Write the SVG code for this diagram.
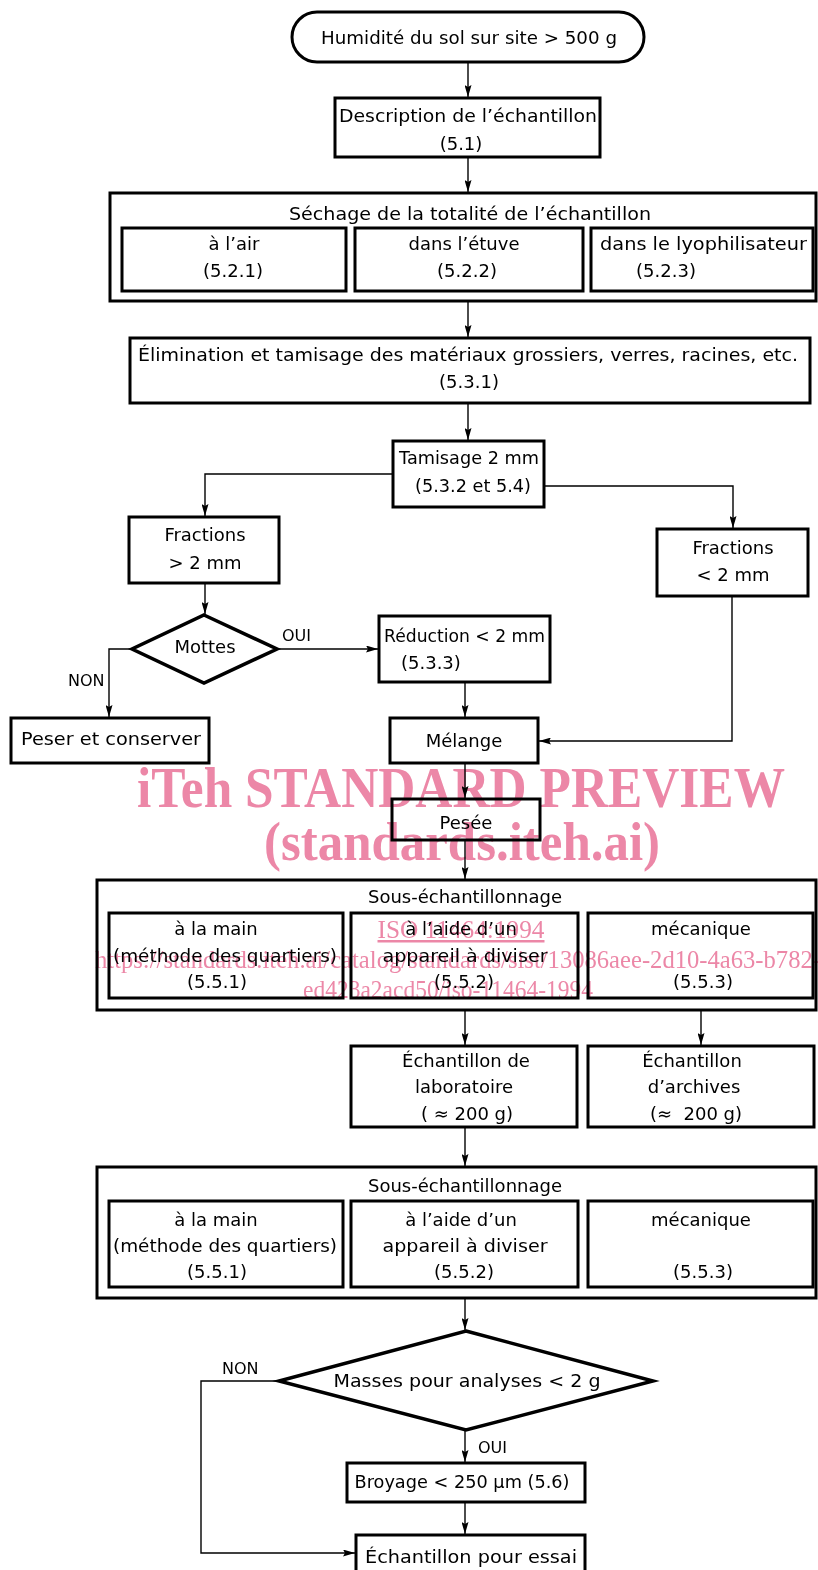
<svg xmlns="http://www.w3.org/2000/svg" width="818" height="1570" viewBox="0 0 818 1570">
<style>
.box{fill:#fff;stroke:#000;stroke-width:3}
.dia{fill:#fff;stroke:#000;stroke-width:3.5;stroke-linejoin:miter}
.con{fill:none;stroke:#000;stroke-width:1.4}
.t{font-family:"DejaVu Sans","Liberation Sans",sans-serif;font-size:18px;fill:#000}
.m{text-anchor:middle}
.s{font-size:16px}
.wm{font-family:"Liberation Serif","Times New Roman",serif;fill:#ec87a7}
.wb{font-weight:bold}
#watermark{mix-blend-mode:multiply}
</style>
<defs>
<marker id="ah" markerWidth="12" markerHeight="7" refX="12" refY="3.5" orient="auto" markerUnits="userSpaceOnUse">
<path d="M0,0 L12,3.5 L0,7 L2,3.5 z" fill="#000"/>
</marker>
</defs>

<g id="connectors">
<path class="con" d="M468,62 V97" marker-end="url(#ah)"/>
<path class="con" d="M468,157 V192" marker-end="url(#ah)"/>
<path class="con" d="M468,301 V337" marker-end="url(#ah)"/>
<path class="con" d="M468,403 V440" marker-end="url(#ah)"/>
<path class="con" d="M393,474 H205 V516" marker-end="url(#ah)"/>
<path class="con" d="M544,486 H733 V528" marker-end="url(#ah)"/>
<path class="con" d="M205,583 V614" marker-end="url(#ah)"/>
<path class="con" d="M277,649 H378" marker-end="url(#ah)"/>
<path class="con" d="M132,649 H109 V717" marker-end="url(#ah)"/>
<path class="con" d="M465,682 V717" marker-end="url(#ah)"/>
<path class="con" d="M732,596 V741 H539" marker-end="url(#ah)"/>
<path class="con" d="M465,763 V798" marker-end="url(#ah)"/>
<path class="con" d="M465,840 V879" marker-end="url(#ah)"/>
<path class="con" d="M465,1010 V1045" marker-end="url(#ah)"/>
<path class="con" d="M701,1010 V1045" marker-end="url(#ah)"/>
<path class="con" d="M465,1127 V1166" marker-end="url(#ah)"/>
<path class="con" d="M465,1298 V1330" marker-end="url(#ah)"/>
<path class="con" d="M465,1430 V1462" marker-end="url(#ah)"/>
<path class="con" d="M465,1502 V1534" marker-end="url(#ah)"/>
<path class="con" d="M279,1381 H201 V1553 H355" marker-end="url(#ah)"/>
</g>

<g id="n-start">
<rect class="box" x="292" y="12" width="352" height="50" rx="25"/>
<text class="t m" x="469" y="44" textLength="296" lengthAdjust="spacingAndGlyphs">Humidité du sol sur site &gt; 500 g</text>
</g>

<g id="n-description">
<rect class="box" x="335" y="98" width="265" height="59"/>
<text class="t m" x="468" y="122" textLength="258" lengthAdjust="spacingAndGlyphs">Description de l’échantillon</text>
<text class="t m" x="461" y="150">(5.1)</text>
</g>

<g id="n-sechage">
<rect class="box" x="110" y="193" width="706" height="108"/>
<text class="t m" x="470" y="220" textLength="362" lengthAdjust="spacingAndGlyphs">Séchage de la totalité de l’échantillon</text>
<g id="n-air">
<rect class="box" x="122" y="228" width="224" height="63"/>
<text class="t m" x="234" y="250">à l’air</text>
<text class="t m" x="233" y="277">(5.2.1)</text>
</g>
<g id="n-etuve">
<rect class="box" x="355" y="228" width="228" height="63"/>
<text class="t m" x="464" y="250">dans l’étuve</text>
<text class="t m" x="467" y="277">(5.2.2)</text>
</g>
<g id="n-lyo">
<rect class="box" x="591" y="228" width="222" height="63"/>
<text class="t" x="600" y="250" textLength="207" lengthAdjust="spacingAndGlyphs">dans le lyophilisateur</text>
<text class="t m" x="666" y="277">(5.2.3)</text>
</g>
</g>

<g id="n-elimination">
<rect class="box" x="130" y="338" width="680" height="65"/>
<text class="t m" x="468" y="361" textLength="660" lengthAdjust="spacingAndGlyphs">Élimination et tamisage des matériaux grossiers, verres, racines, etc.</text>
<text class="t m" x="469" y="388">(5.3.1)</text>
</g>

<g id="n-tamisage">
<rect class="box" x="393" y="441" width="151" height="66"/>
<text class="t m" x="469" y="464" textLength="140" lengthAdjust="spacingAndGlyphs">Tamisage 2 mm</text>
<text class="t m" x="473" y="492" textLength="116" lengthAdjust="spacingAndGlyphs">(5.3.2 et 5.4)</text>
</g>

<g id="n-frac-gt">
<rect class="box" x="129" y="517" width="150" height="66"/>
<text class="t m" x="205" y="541">Fractions</text>
<text class="t m" x="205" y="569">&gt; 2 mm</text>
</g>

<g id="n-frac-lt">
<rect class="box" x="657" y="529" width="151" height="67"/>
<text class="t m" x="733" y="554">Fractions</text>
<text class="t m" x="733" y="581">&lt; 2 mm</text>
</g>

<g id="n-mottes">
<polygon class="dia" points="204,615 277,649 204,683 132,649"/>
<text class="t m" x="205" y="653">Mottes</text>
</g>
<text class="t s" x="282" y="641">OUI</text>
<text class="t s" x="68" y="686">NON</text>

<g id="n-reduction">
<rect class="box" x="379" y="616" width="171" height="66"/>
<text class="t" x="384" y="642" textLength="161" lengthAdjust="spacingAndGlyphs">Réduction &lt; 2 mm</text>
<text class="t" x="401" y="669">(5.3.3)</text>
</g>

<g id="n-peser">
<rect class="box" x="11" y="718" width="198" height="45"/>
<text class="t m" x="111" y="745" textLength="180" lengthAdjust="spacingAndGlyphs">Peser et conserver</text>
</g>

<g id="n-melange">
<rect class="box" x="390" y="718" width="148" height="45"/>
<text class="t m" x="464" y="747">Mélange</text>
</g>

<g id="n-pesee">
<rect class="box" x="392" y="799" width="148" height="41"/>
<text class="t m" x="466" y="829">Pesée</text>
</g>

<g id="n-sous1">
<rect class="box" x="97" y="880" width="719" height="130"/>
<text class="t m" x="465" y="903">Sous-échantillonnage</text>
<g id="n-s1-main">
<rect class="box" x="109" y="913" width="234" height="85"/>
<text class="t m" x="216" y="935">à la main</text>
<text class="t m" x="225" y="962" textLength="224" lengthAdjust="spacingAndGlyphs">(méthode des quartiers)</text>
<text class="t m" x="217" y="988">(5.5.1)</text>
</g>
<g id="n-s1-app">
<rect class="box" x="351" y="913" width="227" height="85"/>
<text class="t m" x="461" y="935">à l’aide d’un</text>
<text class="t m" x="465" y="962" textLength="165" lengthAdjust="spacingAndGlyphs">appareil à diviser</text>
<text class="t m" x="464" y="988">(5.5.2)</text>
</g>
<g id="n-s1-meca">
<rect class="box" x="588" y="913" width="225" height="85"/>
<text class="t m" x="701" y="935">mécanique</text>
<text class="t m" x="703" y="988">(5.5.3)</text>
</g>
</g>

<g id="n-ech-lab">
<rect class="box" x="351" y="1046" width="226" height="81"/>
<text class="t m" x="466" y="1067">Échantillon de</text>
<text class="t m" x="464" y="1093">laboratoire</text>
<text class="t m" x="467" y="1120">( ≈ 200 g)</text>
</g>

<g id="n-ech-arch">
<rect class="box" x="588" y="1046" width="226" height="81"/>
<text class="t m" x="692" y="1067">Échantillon</text>
<text class="t m" x="694" y="1093">d’archives</text>
<text class="t m" x="696" y="1120" xml:space="preserve">(≈  200 g)</text>
</g>

<g id="n-sous2">
<rect class="box" x="97" y="1167" width="719" height="131"/>
<text class="t m" x="465" y="1192">Sous-échantillonnage</text>
<g id="n-s2-main">
<rect class="box" x="109" y="1201" width="234" height="86"/>
<text class="t m" x="216" y="1226">à la main</text>
<text class="t m" x="225" y="1252" textLength="224" lengthAdjust="spacingAndGlyphs">(méthode des quartiers)</text>
<text class="t m" x="217" y="1278">(5.5.1)</text>
</g>
<g id="n-s2-app">
<rect class="box" x="351" y="1201" width="227" height="86"/>
<text class="t m" x="461" y="1226">à l’aide d’un</text>
<text class="t m" x="465" y="1252" textLength="165" lengthAdjust="spacingAndGlyphs">appareil à diviser</text>
<text class="t m" x="464" y="1278">(5.5.2)</text>
</g>
<g id="n-s2-meca">
<rect class="box" x="588" y="1201" width="225" height="86"/>
<text class="t m" x="701" y="1226">mécanique</text>
<text class="t m" x="703" y="1278">(5.5.3)</text>
</g>
</g>

<g id="n-masses">
<polygon class="dia" points="466,1331 653,1381 466,1430 279,1381"/>
<text class="t m" x="467" y="1387" textLength="267" lengthAdjust="spacingAndGlyphs">Masses pour analyses &lt; 2 g</text>
</g>
<text class="t s" x="222" y="1374">NON</text>
<text class="t s" x="478" y="1453">OUI</text>

<g id="n-broyage">
<rect class="box" x="347" y="1463" width="238" height="39"/>
<text class="t m" x="462" y="1488" textLength="215" lengthAdjust="spacingAndGlyphs">Broyage &lt; 250 µm (5.6)</text>
</g>

<g id="n-essai">
<rect class="box" x="356" y="1535" width="229" height="40"/>
<text class="t m" x="471" y="1563" textLength="212" lengthAdjust="spacingAndGlyphs">Échantillon pour essai</text>
</g>

<g id="watermark">
<text class="wm wb" x="461" y="807" font-size="56" text-anchor="middle" textLength="648" lengthAdjust="spacingAndGlyphs">iTeh STANDARD PREVIEW</text>
<text class="wm wb" x="462" y="860" font-size="54" text-anchor="middle" textLength="396" lengthAdjust="spacingAndGlyphs">(standards.iteh.ai)</text>
<text class="wm" x="461" y="938" font-size="25" text-anchor="middle" textLength="167" lengthAdjust="spacingAndGlyphs" text-decoration="underline">ISO 11464:1994</text>
<text class="wm" x="95" y="968" font-size="25" textLength="726" lengthAdjust="spacingAndGlyphs">https://standards.iteh.ai/catalog/standards/sist/13086aee-2d10-4a63-b782-</text>
<text class="wm" x="448" y="998" font-size="25" text-anchor="middle" textLength="290" lengthAdjust="spacingAndGlyphs">ed423a2acd50/iso-11464-1994</text>
</g>
</svg>
